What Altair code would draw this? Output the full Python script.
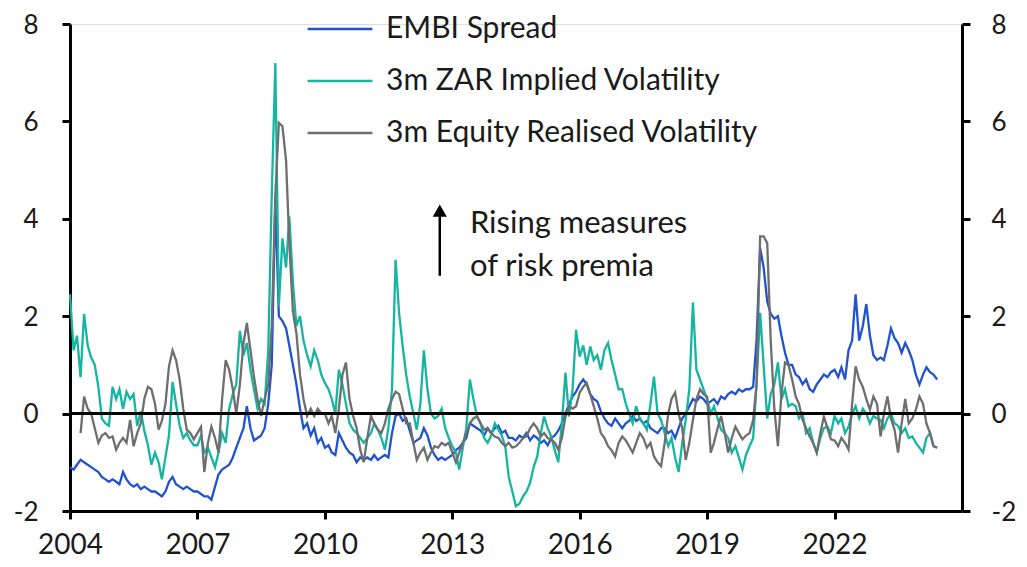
import altair as alt
import pandas as pd

# Monthly observations, Jan 2004 - Jun 2024
dates = pd.date_range("2004-01-01", "2024-06-01", freq="MS").strftime("%Y-%m-%d").tolist()

embi = [
    -1.1, -1.15, -1.05, -0.95, -1.0, -1.05, -1.1, -1.15, -1.2, -1.3, -1.35, -1.4,    # 2004
    -1.35, -1.4, -1.45, -1.2, -1.35, -1.45, -1.5, -1.45, -1.55, -1.5, -1.55, -1.6,   # 2005
    -1.6, -1.65, -1.7, -1.6, -1.4, -1.3, -1.45, -1.5, -1.55, -1.5, -1.55, -1.6,      # 2006
    -1.6, -1.65, -1.7, -1.7, -1.77, -1.5, -1.25, -1.15, -1.1, -1.05, -0.9, -0.7,     # 2007
    -0.5, -0.3, 0.15, -0.3, -0.55, -0.5, -0.45, -0.3, 0.2, 1.0, 4.4, 2.0,            # 2008
    1.9, 1.75, 1.4, 1.0, 0.6, 0.1, -0.3, -0.2, -0.45, -0.3, -0.6, -0.5,              # 2009
    -0.7, -0.65, -0.8, -0.85, -0.4, -0.55, -0.7, -0.8, -0.85, -1.0, -0.9, -0.95,     # 2010
    -0.9, -0.95, -0.85, -0.95, -0.9, -0.85, -0.9, -0.4, -0.05, 0.0, -0.15, -0.1,     # 2011
    -0.35, -0.6, -0.55, -0.5, -0.3, -0.45, -0.7, -0.85, -0.95, -0.9, -0.95, -0.9,    # 2012
    -0.85, -0.75, -0.7, -0.6, -0.5, -0.2, -0.25, -0.3, -0.35, -0.45, -0.3, -0.4,     # 2013
    -0.3, -0.25, -0.4, -0.35, -0.5, -0.5, -0.55, -0.45, -0.5, -0.4, -0.55, -0.45,    # 2014
    -0.5, -0.6, -0.55, -0.65, -0.5, -0.45, -0.35, -0.2, 0.0, 0.2, 0.35, 0.45,        # 2015
    0.6, 0.7, 0.6, 0.4, 0.3, 0.25, 0.05, -0.1, -0.2, -0.25, -0.1, -0.2,              # 2016
    -0.3, -0.2, -0.15, -0.05, -0.15, -0.1, -0.2, -0.15, -0.3, -0.35, -0.4, -0.3,     # 2017
    -0.3, -0.4, -0.35, -0.5, -0.3, -0.1, 0.0, 0.15, 0.3, 0.25, 0.35, 0.3,            # 2018
    0.2, 0.25, 0.3, 0.2, 0.35, 0.3, 0.4, 0.45, 0.4, 0.5, 0.45, 0.5,                  # 2019
    0.5, 0.55, 1.5, 3.4, 3.0, 2.3, 2.05, 1.95, 2.0, 1.6, 1.25, 1.0,                  # 2020
    1.0, 0.8, 0.75, 0.6, 0.7, 0.5, 0.45, 0.6, 0.7, 0.8, 0.75, 0.85,                  # 2021
    0.9, 0.75, 0.95, 0.7, 1.3, 1.5, 2.45, 1.5, 1.8, 2.25, 1.6, 1.2,                  # 2022
    1.1, 1.15, 1.1, 1.4, 1.75, 1.55, 1.45, 1.25, 1.45, 1.3, 1.1, 0.8,                # 2023
    0.6, 0.8, 0.95, 0.85, 0.8, 0.7,                                                  # 2024
]

zar = [
    2.45, 1.3, 1.6, 0.75, 2.05, 1.4, 1.15, 1.0, 0.55, -0.1, -0.2, -0.25,             # 2004
    0.55, 0.3, 0.5, 0.1, 0.45, 0.3, 0.4, -0.25, 0.05, -0.35, -0.65, -1.05,           # 2005
    -0.8, -1.0, -1.35, -0.9, -0.45, 0.65, 0.2, -0.25, -0.5, -0.4, -0.55, -0.65,      # 2006
    -0.65, -0.45, -0.8, -0.7, -0.9, -1.1, -0.8, -0.4, -0.6, 0.1, 0.4, 0.6,           # 2007
    1.7, 1.2, 1.45, 0.9, 0.5, 0.1, 0.3, 0.2, 1.3, 4.5, 7.2, 2.2,                     # 2008
    3.6, 3.0, 4.05, 2.7, 1.8, 2.0, 1.5, 1.2, 0.97, 1.3, 1.1, 0.8,                    # 2009
    0.63, 0.5, 0.3, 0.0, 0.9, 0.6, 0.2, -0.2, -0.33, -0.4, -0.5, -0.6,               # 2010
    -0.5, -0.4, -0.2, -0.33, -0.5, -0.74, -0.3, 0.5, 3.16, 2.07, 1.38, 0.8,          # 2011
    0.35, 0.0, -0.33, 0.2, 1.3, 0.5, 0.0, -0.1, -0.05, 0.1, -0.3, -0.5,              # 2012
    -0.67, -0.8, -1.15, -0.7, -0.3, 0.7, 0.3, -0.05, -0.2, -0.5, -0.6, -0.45,        # 2013
    -0.2, -0.33, -0.45, -0.67, -1.3, -1.6, -1.9, -1.85, -1.7, -1.6, -1.42, -1.1,     # 2014
    -0.88, -0.4, -0.06, -0.3, -0.47, -0.75, -1.0, -0.2, 0.84, -0.06, 0.5, 1.72,      # 2015
    1.17, 1.4, 1.0, 1.38, 1.1, 1.2, 0.9, 1.3, 1.45, 1.1, 0.8, 0.5,                   # 2016
    0.5, 0.2, 0.0, -0.2, 0.15, -0.1, -0.2, -0.33, 0.2, 0.76, 0.0, -0.13,             # 2017
    -0.4, -0.67, -0.5, -0.9, -1.2, -0.6, -0.13, 0.5, 2.28, 0.9, 0.7, 0.5,            # 2018
    0.3, 0.0, 0.15, -0.1, -0.33, -0.4, -0.5, -0.8, -0.67, -0.9, -1.15, -0.85,        # 2019
    -0.67, -0.5, 0.6, 2.07, 1.0, -0.1, 0.4, 0.6, 1.05, 0.3, 0.5, 0.15,               # 2020
    0.2, 0.15, -0.1, 0.0, -0.4, -0.3, -0.6, -0.8, -0.5, -0.3, -0.27, -0.4,           # 2021
    -0.05, -0.2, -0.1, -0.4, -0.27, 0.0, 0.15, -0.1, 0.1, 0.0, -0.2, -0.05,          # 2022
    -0.1, -0.13, -0.3, -0.1, 0.0, -0.2, -0.25, -0.4, -0.3, -0.5, -0.47, -0.6,        # 2023
    -0.7, -0.8, -0.5, -0.4, -0.67, -0.7,                                             # 2024
]

equity = [
    None, None, None, -0.4, 0.35, 0.1, 0.0, -0.3, -0.6, -0.45, -0.4, -0.5,          # 2004
    -0.47, -0.74, -0.6, -0.5, -0.6, -0.13, -0.67, -0.4, -0.2, 0.3, 0.55, 0.5,        # 2005
    0.2, -0.33, -0.15, 0.2, 0.97, 1.3, 1.1, 0.7, 0.1, -0.33, -0.4, -0.53,            # 2006
    -0.4, -0.27, -1.2, -0.6, -0.27, -0.5, -0.8, 0.3, 1.1, 0.9, 0.5, 0.0,             # 2007
    0.6, 1.45, 1.86, 1.3, 0.76, 0.3, -0.05, 0.3, 0.6, 1.8, 4.5, 5.97,                # 2008
    5.9, 5.2, 3.5, 2.1, 1.65, 0.8, 0.3, -0.05, 0.1, -0.05, 0.1, 0.0,                 # 2009
    0.0, -0.2, -0.05, -0.4, 0.1, 0.8, 1.05, 0.3, -0.05, -0.3, -0.74, -1.0,           # 2010
    -0.5, -0.05, -0.2, -0.33, -0.4, -0.2, 0.1, 0.3, 0.45, 0.4, 0.1, -0.2,            # 2011
    -0.2, -0.6, -0.95, -0.8, -0.7, -0.95, -0.8, -0.67, -0.7, -0.6, -0.65, -0.6,      # 2012
    -0.8, -1.0, -0.8, -0.6, -0.4, -0.2, -0.1, -0.06, -0.2, -0.33, -0.3, -0.4,        # 2013
    -0.47, -0.5, -0.6, -0.67, -0.6, -0.7, -0.67, -0.6, -0.5, -0.47, -0.3, -0.2,      # 2014
    -0.3, -0.47, -0.4, -0.5, -0.53, -0.6, -0.74, -0.5, -0.06, 0.15, 0.1, 0.15,       # 2015
    0.43, 0.55, 0.63, 0.4, 0.15, -0.1, -0.4, -0.5, -0.67, -0.75, -0.88, -0.6,        # 2016
    -0.47, -0.55, -0.67, -0.8, -0.6, -0.4, -0.5, -0.7, -0.6, -0.88, -1.0, -1.08,     # 2017
    -0.6, 0.0, 0.3, 0.43, 0.0, -0.3, -0.95, -0.6, -0.13, 0.3, 0.5, 0.4,              # 2018
    0.35, -0.8, -0.6, -0.3, -0.05, -0.4, -0.8, -0.5, -0.27, -0.4, -0.53, -0.45,      # 2019
    -0.4, -0.13, 0.6, 3.64, 3.64, 3.5, 1.5, 0.1, -0.67, 0.4, 1.05, 1.0,              # 2020
    0.7, 0.35, 0.2, -0.13, -0.3, -0.47, -0.6, -0.8, -0.4, -0.06, -0.3, -0.53,        # 2021
    -0.55, -0.67, -0.5, -0.6, -0.74, 0.2, 0.97, 0.7, 0.55, 0.3, 0.08, 0.35,          # 2022
    0.2, -0.47, 0.0, 0.35, -0.1, -0.33, -0.8, -0.2, 0.3, -0.2, -0.1, 0.08,           # 2023
    0.35, 0.2, -0.2, -0.4, -0.67, -0.7,                                              # 2024
]

series_names = ["EMBI Spread", "3m ZAR Implied Volatility", "3m Equity Realised Volatility"]
series_colors = ["#2152CF", "#15B5A2", "#6E6E6E"]
y_ticks = [-2, 0, 2, 4, 6, 8]
x_tick_years = [2004, 2007, 2010, 2013, 2016, 2019, 2022]
annotation_lines = ["Rising measures", "of risk premia"]

FONT = "Lato"
TXT = "#1a1a1a"
FS = 30

rows = []
for name, vals in zip(series_names, [embi, zar, equity]):
    for d, v in zip(dates, vals):
        if v is not None:
            rows.append({"date": d, "value": v, "series": name})
df = pd.DataFrame(rows)

x_scale = alt.Scale(domain=[alt.DateTime(year=2004, month=1, date=1),
                            alt.DateTime(year=2025, month=1, date=1)])
y_scale = alt.Scale(domain=[-2, 8], nice=False)

x_axis = alt.Axis(values=[alt.DateTime(year=y, month=1, date=1) for y in x_tick_years],
                  format="%Y", title=None, grid=False, domainColor="black", domainWidth=3,
                  tickColor="black", tickWidth=3, tickSize=8, labelFont=FONT,
                  labelFontSize=28, labelColor=TXT, labelPadding=34, labelAngle=0,
                  labelAlign="center", labelBaseline="alphabetic", labelFlush=False,
                  labelOverlap=False)

def y_axis(orient, pad):
    return alt.Axis(values=y_ticks, orient=orient, title=None, grid=False,
                    domainColor="black", domainWidth=3, tickColor="black", tickWidth=3,
                    tickSize=8, labelFont=FONT, labelFontSize=26, labelColor=TXT,
                    labelPadding=pad, labelOffset=1, labelExpr="'' + datum.value")

color = alt.Color("series:N", scale=alt.Scale(domain=series_names, range=series_colors),
                  legend=alt.Legend(title=None, orient="none", legendX=236, legendY=-29,
                                    symbolType="stroke", symbolSize=4200,
                                    symbolStrokeWidth=2.5, labelFont=FONT, labelFontSize=FS,
                                    labelColor=TXT, labelOffset=12, rowPadding=3,
                                    labelLimit=800))

def line_layer(name, with_axis):
    if with_axis:
        x = alt.X("date:T", scale=x_scale, axis=x_axis)
        y = alt.Y("value:Q", scale=y_scale, axis=y_axis("left", 24))
    else:
        x = alt.X("date:T", scale=x_scale)
        y = alt.Y("value:Q", scale=y_scale)
    return alt.Chart(df).transform_filter(alt.datum.series == name).mark_line(
        strokeWidth=2.3).encode(x=x, y=y, color=color)

lines = [line_layer(n, i == 0) for i, n in enumerate(series_names)]

arrow_df = pd.DataFrame({"date": ["2012-09-15"], "value": [2.83], "value2": [4.05]})
arrow_shaft = alt.Chart(arrow_df).mark_rule(color="black", strokeWidth=2.5).encode(
    x="date:T", y="value:Q", y2="value2:Q")
head_df = pd.DataFrame({"date": ["2012-09-15"], "value": [4.17]})
arrow_head = alt.Chart(head_df).mark_point(shape="triangle-up", filled=True, color="black",
                                           size=200, opacity=1).encode(
    x="date:T", y="value:Q")

text_df = pd.DataFrame({"date": ["2013-06-01", "2013-06-01"], "value": [3.9, 3.02],
                        "label": annotation_lines})
ann_text = alt.Chart(text_df).mark_text(align="left", baseline="middle", font=FONT,
                                        fontSize=31, color=TXT).encode(
    x="date:T", y="value:Q", text="label:N")

left = alt.layer(*lines, arrow_shaft, arrow_head, ann_text)

zero_df = pd.DataFrame({"value": [0]})
zero = alt.Chart(zero_df).mark_rule(color="black", strokeWidth=3).encode(
    y=alt.Y("value:Q", scale=y_scale, axis=y_axis("right", 21)))

chart = alt.layer(left, zero).resolve_scale(y="independent").properties(
    width=892, height=487,
    autosize=alt.AutoSizeParams(type="none"),
    padding={"left": 62, "top": 16, "right": 57, "bottom": 48},
).configure_view(strokeWidth=0).configure(background="white")

chart.save("out.html", embed_options={"renderer": "svg", "actions": False})
